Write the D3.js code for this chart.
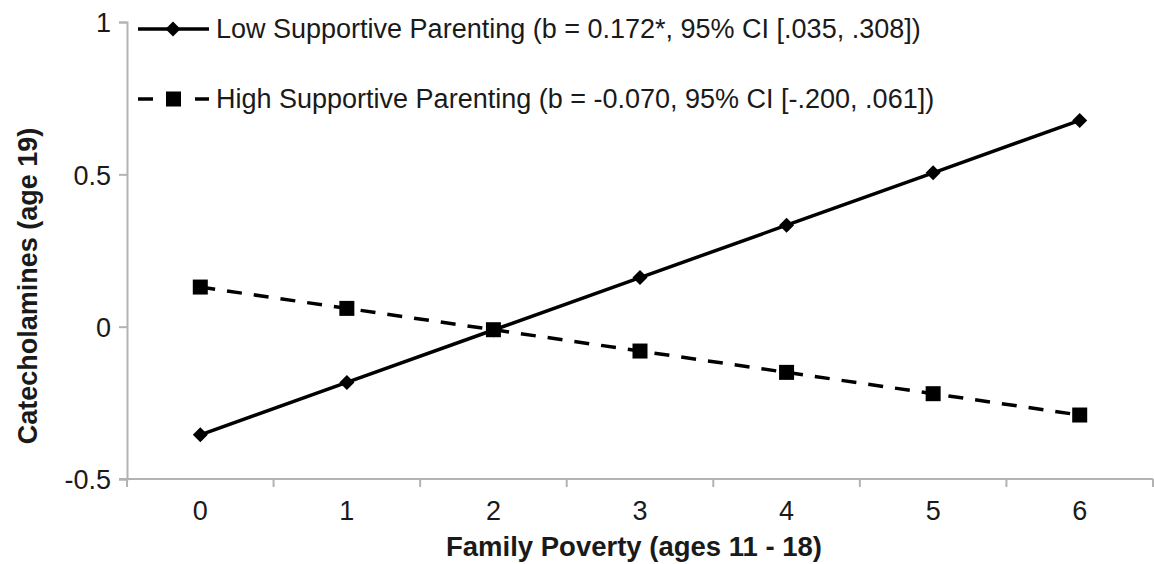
<!DOCTYPE html>
<html>
<head>
<meta charset="utf-8">
<script src="https://cdn.jsdelivr.net/npm/d3@7"></script>
<style>
  html, body { margin: 0; padding: 0; background: #fff; }
  svg { display: block; font-family: "Liberation Sans", Arial, sans-serif; }
</style>
</head>
<body>
<svg id="chart" width="1154" height="564"></svg>
<script>
// Family poverty categories (x axis)
const povertyLevels = ["0", "1", "2", "3", "4", "5", "6"];
// Predicted catecholamines for each parenting group
const lowSupportValues  = [-0.355, -0.183, -0.011, 0.161, 0.333, 0.505, 0.677];
const highSupportValues = [0.130, 0.060, -0.010, -0.080, -0.150, -0.220, -0.290];
const seriesNames = [
  "Low Supportive Parenting (b = 0.172*, 95% CI [.035, .308])",
  "High Supportive Parenting (b = -0.070, 95% CI [-.200, .061])"
];
const yTickValues = [-0.5, 0, 0.5, 1];

const svg = d3.select("#chart");
const margin = { left: 127, right: 1, top: 22, bottom: 85 };
const W = 1154, H = 564;
const FONT = "Liberation Sans, Arial, sans-serif";

const x = d3.scaleBand().domain(povertyLevels).range([margin.left, W - margin.right]);
const y = d3.scaleLinear().domain([-0.5, 1]).range([H - margin.bottom, margin.top]);

const axisColor = "#b3b3b3";
const textColor = "#1a1a1a";

// Y axis
const yAxis = svg.append("g")
  .attr("transform", `translate(${margin.left},0)`)
  .call(d3.axisLeft(y).tickValues(yTickValues).tickSize(8).tickPadding(8)
        .tickFormat(d => d === 0 ? "0" : String(d)));
yAxis.select(".domain").attr("stroke", axisColor).attr("stroke-width", 2);
yAxis.selectAll(".tick line").attr("stroke", axisColor).attr("stroke-width", 2);
yAxis.selectAll(".tick text").attr("font-size", 27).attr("fill", textColor)
  .attr("font-family", FONT).attr("dy", "0.36em");

// X axis: tick marks at category boundaries, labels at centres
const xAxisG = svg.append("g").attr("transform", `translate(0,${y(-0.5)})`);
xAxisG.append("line")
  .attr("x1", margin.left - 8).attr("x2", W - margin.right)
  .attr("stroke", axisColor).attr("stroke-width", 2);
const boundaries = povertyLevels.map(d => x(d)).concat([x(povertyLevels[povertyLevels.length - 1]) + x.bandwidth()]);
xAxisG.selectAll("line.tk").data(boundaries).join("line")
  .attr("class", "tk")
  .attr("x1", d => d).attr("x2", d => d)
  .attr("y1", 0).attr("y2", 8)
  .attr("stroke", axisColor).attr("stroke-width", 2);
xAxisG.selectAll("text").data(povertyLevels).join("text")
  .attr("x", d => x(d) + x.bandwidth() / 2)
  .attr("y", 41)
  .attr("text-anchor", "middle")
  .attr("font-size", 27).attr("fill", textColor)
  .text(d => d);

// Axis titles
svg.append("text")
  .attr("x", 634).attr("y", 556)
  .attr("text-anchor", "middle")
  .attr("font-size", 27.5).attr("font-weight", "bold").attr("fill", textColor)
  .text("Family Poverty (ages 11 - 18)");
svg.append("text")
  .attr("transform", `translate(37,286) rotate(-90)`)
  .attr("text-anchor", "middle")
  .attr("font-size", 27).attr("font-weight", "bold").attr("fill", textColor)
  .text("Catecholamines (age 19)");

const cx = d => x(d) + x.bandwidth() / 2;
const line = d3.line().x(d => cx(d.k)).y(d => y(d.v));

const lowData = povertyLevels.map((k, i) => ({ k, v: lowSupportValues[i] }));
const highData = povertyLevels.map((k, i) => ({ k, v: highSupportValues[i] }));

// Lines
svg.append("path").datum(lowData)
  .attr("d", line).attr("fill", "none")
  .attr("stroke", "#000").attr("stroke-width", 3.5);
svg.append("path").datum(highData)
  .attr("d", line).attr("fill", "none")
  .attr("stroke", "#000").attr("stroke-width", 3.5)
  .attr("stroke-dasharray", "15,12");

// Markers
const diamond = s => `M0,${-s}L${s},0L0,${s}L${-s},0Z`;
svg.selectAll("path.dia").data(lowData).join("path")
  .attr("class", "dia")
  .attr("transform", d => `translate(${cx(d.k)},${y(d.v)})`)
  .attr("d", diamond(7.5)).attr("fill", "#000");
svg.selectAll("rect.sq").data(highData).join("rect")
  .attr("class", "sq")
  .attr("x", d => cx(d.k) - 7.5).attr("y", d => y(d.v) - 7.5)
  .attr("width", 15).attr("height", 15).attr("fill", "#000");

// Legend
const legend = svg.append("g");
const legY = [29, 99];
legend.append("line").attr("x1", 138).attr("x2", 209).attr("y1", legY[0]).attr("y2", legY[0])
  .attr("stroke", "#000").attr("stroke-width", 3.5);
legend.append("path").attr("transform", `translate(173,${legY[0]})`)
  .attr("d", diamond(7.5)).attr("fill", "#000");
[[138, 153], [195, 209]].forEach(([a, b]) => {
  legend.append("line").attr("x1", a).attr("x2", b).attr("y1", legY[1]).attr("y2", legY[1])
    .attr("stroke", "#000").attr("stroke-width", 3.5);
});
legend.append("rect").attr("x", 166).attr("y", legY[1] - 7.5).attr("width", 15).attr("height", 15).attr("fill", "#000");
legend.selectAll("text").data(seriesNames).join("text")
  .attr("x", 216).attr("y", (d, i) => legY[i] + 9)
  .attr("font-size", 27).attr("fill", textColor)
  .text(d => d);
</script>
</body>
</html>
